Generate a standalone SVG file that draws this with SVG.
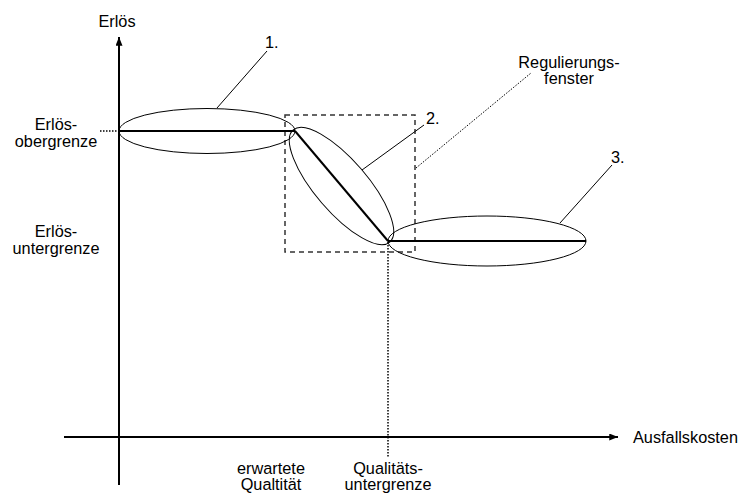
<svg xmlns="http://www.w3.org/2000/svg" width="742" height="493" viewBox="0 0 742 493">
<style>
text{font-family:"Liberation Sans",Arial,sans-serif;font-size:16.3px;fill:#000}
.ax{stroke:#000;stroke-width:2;fill:none}
.thick{stroke:#000;stroke-width:2;fill:none}
.thin{stroke:#000;stroke-width:1;fill:none}
.dot{stroke:#000;stroke-width:1.5;stroke-dasharray:1.5,1.5;fill:none}
.dotf{stroke:#000;stroke-width:1;stroke-dasharray:1.5,1.5;fill:none}
.dash{stroke:#333;stroke-width:1.5;stroke-dasharray:5,4;fill:none}
.mid{text-anchor:middle}
</style>
<defs>
<marker id="arr" viewBox="0 0 10 8" refX="10" refY="4" markerWidth="9" markerHeight="7" markerUnits="userSpaceOnUse" orient="auto">
<path d="M0,0 L10,4 L0,8 Z" fill="#000"/>
</marker>
</defs>
<g id="axes">
<line class="ax" x1="119" y1="485" x2="119" y2="37" marker-end="url(#arr)"/>
<line class="ax" x1="64" y1="437" x2="618" y2="437" marker-end="url(#arr)"/>
<text x="117" y="27" class="mid">Erlös</text>
<text x="633" y="443">Ausfallskosten</text>
</g>
<g id="window">
<rect class="dash" x="285" y="115" width="130" height="137"/>
</g>
<g id="phase1">
<ellipse class="thin" cx="207" cy="131" rx="88" ry="22.5"/>
<line class="thick" x1="119" y1="131" x2="295" y2="131"/>
</g>
<g id="phase2">
<ellipse class="thin" cx="341.5" cy="186" rx="74" ry="26" transform="rotate(49.3 341.5 186)"/>
<line class="thick" x1="295" y1="131" x2="388" y2="241"/>
</g>
<g id="phase3">
<ellipse class="thin" cx="487" cy="241" rx="99" ry="25"/>
<line class="thick" x1="388" y1="241" x2="586" y2="241"/>
</g>
<g id="connectors">
<line class="dot" x1="100" y1="131" x2="118" y2="131"/>
<line class="dot" x1="388" y1="242" x2="388" y2="457"/>
<line class="thin" x1="217" y1="108" x2="267" y2="51"/>
<line class="thin" x1="362" y1="170" x2="424" y2="125"/>
<line class="thin" x1="560" y1="223" x2="612" y2="165"/>
<line class="dotf" x1="416" y1="168" x2="531" y2="73"/>
</g>
<g id="labels">
<text x="265" y="48">1.</text>
<text x="426" y="124">2.</text>
<text x="611" y="163">3.</text>
<text x="569" y="68" class="mid">Regulierungs-</text>
<text x="569" y="84" class="mid">fenster</text>
<text x="56" y="130" class="mid">Erlös-</text>
<text x="56" y="147" class="mid">obergrenze</text>
<text x="56" y="237" class="mid">Erlös-</text>
<text x="56" y="254" class="mid">untergrenze</text>
<text x="271" y="474" class="mid">erwartete</text>
<text x="271" y="490" class="mid">Qualtität</text>
<text x="388" y="474" class="mid">Qualitäts-</text>
<text x="388" y="490" class="mid">untergrenze</text>
</g>
</svg>
